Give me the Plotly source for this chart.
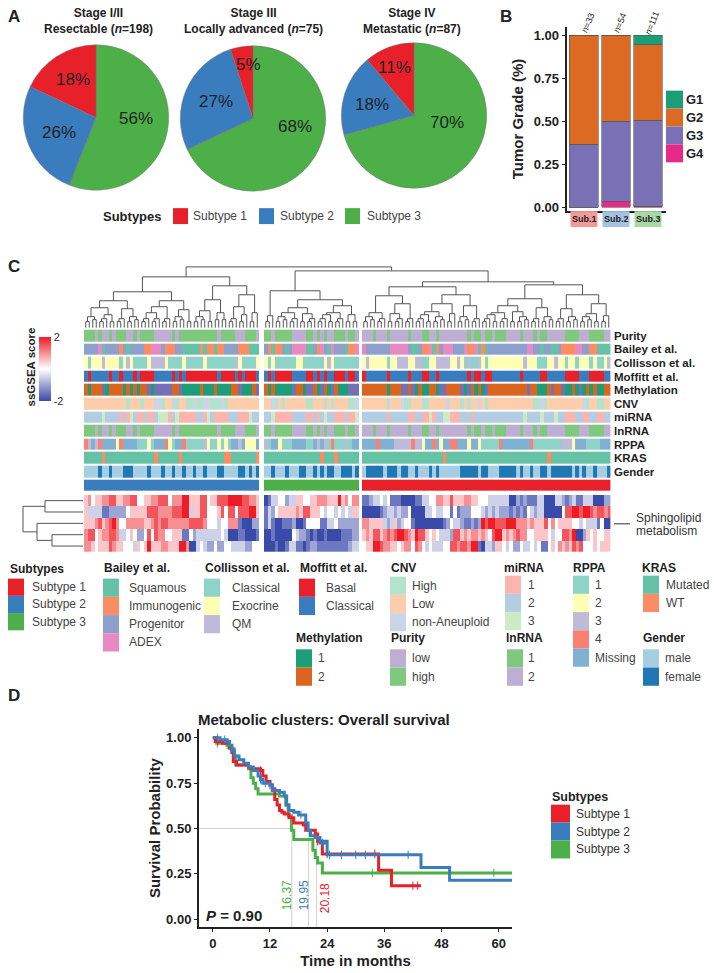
import re
import plotly.graph_objects as go

W, H = 714, 973
FONT = "Liberation Sans"
INK = "#222222"

# ---------- Panel A data ----------
pie_labels = ["Subtype 3", "Subtype 2", "Subtype 1"]
pie_resectable = [56, 26, 18]
pie_locally = [68, 27, 5]
pie_metastatic = [70, 18, 11]
pie_titles = ["Stage I/II<br>Resectable (<i>n</i>=198)",
              "Stage III<br>Locally advanced (<i>n</i>=75)",
              "Stage IV<br>Metastatic (<i>n</i>=87)"]
subtype_names = ["Subtype 1", "Subtype 2", "Subtype 3"]
subtype_colors = ["#e8202a", "#3a7dbf", "#4caf48"]

# ---------- Panel B data ----------
grade_groups = ["Sub.1", "Sub.2", "Sub.3"]
grade_n = ["n=33", "n=54", "n=111"]
grade_g4 = [0.0, 0.035, 0.005]
grade_g3 = [0.365, 0.465, 0.50]
grade_g2 = [0.635, 0.50, 0.44]
grade_g1 = [0.0, 0.0, 0.055]
grade_colors = {"G1": "#1b9e77", "G2": "#dd6a22", "G3": "#7a70b5", "G4": "#e7298a"}

# ---------- Panel C annotation tracks (run-length text: count + class letter) ----------
purity = ["3H 1L 1H 2L 1H 1L 3H 2L 1H 1L 4H 5L 1H 1L 11H 1L 4H 3L 3H 2L",
          "2H 1L 5H 4L 2H 1L 1H 1L 1H 2L 3H 1L 2H 1L",
          "3L 1H 3L 1H 5L 1H 3L 2H 2L 1H 8L 1H 1L 2H 1L 2H 1L 3H 4L 1H 3L 1H 1L 2H 5L 4H 3L 4H 2L"]
bailey = ["4P 1A 1S 4P 1I 1P 1S 4P 2I 3A 1P 3I 2P 5S 1I 1S 2I 1S 2I 4P 3I 3S",
          "1P 1I 1S 2I 1P 1S 1P 4A 2S 1P 1I 1A 1P 1S 1A 3P 1S 2I 1A",
          "1A 7P 5A 1P 2S 1P 2I 1A 1S 1I 1P 3A 3P 1A 2I 1A 1S 1I 1S 11P 2A 2P 1S 2P 2S 1P 4I 2A 2P 2I 4S"]
collisson = ["1E 1C 3E 1Q 4E 1C 1E 1Q 1E 4C 1E 4Q 1E 4C 1E 5C 1E 8C 1Q 1E 4C 2E",
             "1E 1C 1E 6C 2E 6C 1E 1Q 1E 7C",
             "1E 1Q 5E 1C 2E 3Q 2E 2Q 2C 2E 4Q 2E 1Q 1E 1C 1Q 2C 1Q 1E 1C 10E 1Q 3E 3C 2E 1Q 2E 1C 2E 1C 3E 1C 1E 2C 1E 1Q"]
moffitt = ["1C 1B 5C 1B 2C 1B 3C 1B 1C 4B 5C 1B 1C 1B 1C 9B 1C 4B 1C 1B 1C 3B 2C",
           "1C 1B 1C 5B 4C 2B 1C 1B 1C 1B 2C 3B 1C 2B 1C",
           "1B 6C 1B 5C 1B 3C 2B 2C 1B 8C 1B 1C 2B 1C 2B 8C 1B 5C 2B 5C 4B 3C 4B 2C"]
methylation = ["OGOOOPGOOOO GOGOGOOPG PPPPP OOP GGGGG O GGG O GGGG OO P GGG O P",
               "OGOGGGGGPOOGPPOGPOGPOGGGPPP",
               "OOOOOOO G OOO PP O P G O GG OO G PP OOOO P G P O G O G P OOOOOOOOOOO P OO GGG O P OO P GG O G P G O G O GG OO"]
cnv = ["12L 1H 3L 1H 3L 2N 1H 2L 1N 1H 2L 2H 1N 2H 2N 3H 1N 1H 9L",
       "LLNHLHLLLLLLHHLLLHLHLLLLHHN",
       "7L 1H 3L 1N 2H 3L 2H 5L 1N 3L 1H 1L 1H 2L 1N 1L 1H 13L 2H 1N 1H 10L 1N 1H 2L 2H 2L"]
mirna = ["5B 1G 4B 1P 1B 1P 1G 1B 2P 1B 2P 1B 3G 1P 1B 1G 5P 2B 1P 1G 1B 4P 3B 3P 1G 2B",
         "BBGPPPPPBBBBPPBPBGBBPPPBPPG",
         "7B 1P 5B 2P 2B 2P 1G 1P 2B 2G 3P 3B 1P 4B 10B 1G 4B 1G 3B 1G 2B 3P 2B 2P 2B 2P 2B"]
lnrna = purity
rppa = ["RQMQRMMMMYRMMMMTTTYTMMMRYTMMRTTTTTQYTTYTYTMMQMYYYM",
        "QTMMYTTTMMMMTTMQMQTRTTTQTMM",
        "4M 1R 4M 5Q 1R 2Q 1Y 2M 1R 1M 1Y 2M 2R 3M 1Y 2M 1Y 5T 1R 8M 1R 8T 3Q 1Y 3M 4T 3M"]
kras = ["5M 1W 14M 1W 6M 1W 12M 2W 7M 1W", "16M 1W 3M 1W 6M", "23M 1W 29M 1W 17M"]
gender = ["4M 1F 2M 1F 3M 3F 4M 1F 3M 1F 2M 1F 2M 1F 2M 1F 2M 1F 3M 2F 4M 2F 1M 1F 1M 1F",
          "2M 1F 3M 1F 3M 2F 2M 1F 1M 1F 1M 2F 2M 3F 1M 1F",
          "1M 5F 1M 3F 1M 2F 2M 1F 3M 1F 1M 1F 6M 5F 1M 2F 3M 5F 1M 1F 2M 1F 2M 2F 1M 6F 1M 1F 1M 1F 2M 1F 3M 1F"]
subtype_track = ["50T", "27G", "71R"]

track_names = ["Purity", "Bailey et al.", "Collisson et al.", "Moffitt et al.", "Methylation",
               "CNV", "miRNA", "lnRNA", "RPPA", "KRAS", "Gender"]
track_data = [purity, bailey, collisson, moffitt, methylation, cnv, mirna, lnrna, rppa, kras, gender,
              subtype_track]
track_colors = [
    {"L": "#beaed4", "H": "#7fc97f"},
    {"S": "#66c2a5", "I": "#fc8d62", "P": "#8da0cb", "A": "#e78ac3"},
    {"C": "#8dd3c7", "E": "#ffffb3", "Q": "#bebada"},
    {"B": "#e8202a", "C": "#3a7dbf"},
    {"G": "#1b9e77", "O": "#d9651f", "P": "#7570b3"},
    {"H": "#b3e2cd", "L": "#fdcdac", "N": "#cbd5e8"},
    {"P": "#fbb4ae", "B": "#b3cde3", "G": "#ccebc5"},
    {"H": "#7fc97f", "L": "#beaed4"},
    {"T": "#8dd3c7", "Y": "#ffffb3", "Q": "#bebada", "R": "#fb8072", "M": "#80b1d3"},
    {"M": "#66c2a5", "W": "#fc8d62"},
    {"M": "#a6cee3", "F": "#1f78b4"},
    {"R": "#e8202a", "T": "#3a7dbf", "G": "#4caf48"},
]
block_sizes = [50, 27, 71]

# ---------- Panel C ssGSEA rows (digit 0..8 = -2..2) ----------
ss_row1 = ["56455 66775 56677 44556 67774 66688 55577 45577 78888 77665",
           "01334 42335 54455 66655 58564 66",
           "11233 43411 10000 11334 46655 75556 65544 43333 33002 12111 33000 33212 31133 30002 2"]
ss_row2 = ["53333 11222 22455 55577 76666 77788 35577 44457 47747 77885",
           "13245 55556 57755 54344 34343 55",
           "00000 12332 32240 00033 43344 14122 24443 23232 22121 21432 33000 00477 88788 76776 7"]
ss_row3 = ["55567 56786 44666 66556 76776 66666 77776 44434 46661 00022",
           "13100 11120 01444 41133 42222 22",
           "66555 53235 23441 00000 00012 43321 12128 78877 78886 66565 55746 45555 44343 33140 0"]
ss_row4 = ["67745 66776 33454 22474 76644 55511 42333 33334 30001 10001",
           "00100 00043 22101 00100 00111 22",
           "56577 56767 88765 87754 54333 27756 56656 54788 56567 66445 55543 44776 80025 45445 5"]
ss_row5 = ["66545 55765 54443 54585 55665 55886 00343 22422 44333 32244",
           "00010 01331 10122 11111 11112 33",
           "45588 76655 45664 76434 33344 77677 68810 33255 43422 43343 41145 46565 76744 45455 5"]
ss_rows = [ss_row1, ss_row2, ss_row3, ss_row4, ss_row5]

# ---------- Panel C dendrograms: (merge height, left, right); 0 = a leaf ----------
a = (6, 0, 0); b = (8, 0, 0); c = (9, a, 0); d = (11, a, b); e = (13, c, a)
den_block1 = (51,
              (36, (27, (20, d, e), (19, c, d)), (27, (21, (15, c, c), c), (18, d, a))),
              (42, (28, (17, d, a), (15, b, b)), (33, (21, c, (13, a, 0)), (15, a, 0))))
den_block2 = (37, (12, a, 0),
              (28, (20, (15, d, c), (14, a, c)), (22, (15, e, c), (13, a, a))))
den_block3 = (46,
              (41, (32, (15, d, c), (24, (14, a, c), c)),
                   (33, (24, (16, e, d), (14, a, 0)), (22, d, c))),
              (43, (29, (22, (15, e, c), (16, a, d)), (20, c, d)),
                   (33, (19, c, d), (24, (14, d, a), (12, a, 0)))))
den_top = (61, den_block1, (57, den_block2, den_block3))
den_rows = (60, (38, 0, 0), (46, 0, (31, 0, 0)))

# ---------- Panel C legends ----------
legend_groups = [
    ("Subtypes", subtype_names, subtype_colors, 8, 571, 8, 30, 581, 17.3),
    ("Bailey et al.", ["Squamous", "Immunogenic", "Progenitor", "ADEX"],
     ["#66c2a5", "#fc8d62", "#8da0cb", "#e78ac3"], 102, 570, 103, 127, 581, 18.3),
    ("Collisson et al.", ["Classical", "Exocrine", "QM"], ["#8dd3c7", "#ffffb3", "#bebada"],
     203, 570, 204, 230, 581, 18.3),
    ("Moffitt et al.", ["Basal", "Classical"], ["#e8202a", "#3a7dbf"], 298, 570, 299, 324, 581, 18.3),
    ("Methylation", ["1", "2"], ["#1b9e77", "#d9651f"], 294, 641, 296, 316, 652, 18.3),
    ("CNV", ["High", "Low", "non-Aneuploid"], ["#b3e2cd", "#fdcdac", "#cbd5e8"], 389, 570, 390, 410, 579, 18.3),
    ("Purity", ["low", "high"], ["#beaed4", "#7fc97f"], 389, 641, 390, 410, 652, 18.3),
    ("miRNA", ["1", "2", "3"], ["#fbb4ae", "#b3cde3", "#ccebc5"], 502, 570, 505, 526, 578, 18.3),
    ("lnRNA", ["1", "2"], ["#7fc97f", "#beaed4"], 504, 641, 507, 526, 652, 18.3),
    ("RPPA", ["1", "2", "3", "4", "Missing"], ["#8dd3c7", "#ffffb3", "#bebada", "#fb8072", "#80b1d3"],
     571, 570, 573, 593, 578, 18.3),
    ("KRAS", ["Mutated", "WT"], ["#66c2a5", "#fc8d62"], 640, 570, 643, 664, 578, 18.3),
    ("Gender", ["male", "female"], ["#a6cee3", "#1f78b4"], 641, 641, 643, 663, 652, 18.3),
]

# ---------- Panel D data ----------
km1_t = [0, 0.5, 2, 3.5, 4, 4.3, 5, 7.5, 8, 10, 10.5, 11.2, 12, 12.5, 13, 13.5, 14, 14.5, 15, 16, 17, 19, 19.5, 21.5, 22, 23, 34.8, 37.5, 43.7]
km1_s = [1.0, 0.98, 0.97, 0.95, 0.92, 0.87, 0.85, 0.84, 0.83, 0.82, 0.79, 0.76, 0.74, 0.72, 0.66, 0.63, 0.60, 0.59, 0.58, 0.56, 0.53, 0.52, 0.49, 0.47, 0.43, 0.36, 0.27, 0.185, 0.185]
km2_t = [0, 1.5, 3, 3.5, 4, 4.5, 5.5, 6.5, 7.5, 8.5, 9.5, 10, 10.5, 12, 12.5, 14, 15, 15.5, 16, 17, 18, 19.5, 20, 20.5, 21.5, 22.5, 23.5, 24, 43.7, 49.7, 62.8]
km2_s = [1.0, 0.99, 0.98, 0.96, 0.93, 0.90, 0.88, 0.86, 0.84, 0.82, 0.79, 0.77, 0.75, 0.74, 0.71, 0.70, 0.68, 0.63, 0.60, 0.59, 0.575, 0.53, 0.49, 0.46, 0.45, 0.42, 0.43, 0.355, 0.285, 0.215, 0.215]
km3_t = [0, 0.8, 3, 3.5, 4.5, 4.8, 6, 7.5, 8, 8.5, 9, 9.5, 13, 14, 15.3, 15.8, 16.5, 17, 20.5, 21, 21.5, 22, 23, 62.8]
km3_s = [1.0, 0.97, 0.96, 0.94, 0.90, 0.85, 0.85, 0.83, 0.78, 0.75, 0.72, 0.69, 0.69, 0.68, 0.63, 0.57, 0.49, 0.44, 0.44, 0.38, 0.34, 0.31, 0.255, 0.255]
km1_cens = [1, 10, 12, 22, 24, 34, 42, 43]
km2_cens = [1, 2.5, 10, 11, 18.5, 23, 24.5, 27, 30, 32, 41]
km3_cens = [1, 3, 33.5, 59]
km_medians = [16.6, 20.1, 21.8]
km_median_labels = ["16.37", "19.95", "20.18"]
km_median_colors = ["#4caf48", "#3a7dbf", "#e8202a"]


# ---------- helpers ----------
def fx(x): return x / W
def fy(y): return 1 - y / H
def dom_x(x0, x1): return [fx(x0), fx(x1)]
def dom_y(top, bottom): return [fy(bottom), fy(top)]


annotations, shapes = [], []


def text(x, y, s, size=11, color=INK, xanchor="left", angle=0, bold=False):
    annotations.append(dict(x=fx(x), y=fy(y), xref="paper", yref="paper", showarrow=False,
                            text=f"<b>{s}</b>" if bold else s, textangle=angle, xanchor=xanchor,
                            yanchor="middle", font=dict(size=size, color=color, family=FONT)))


def rect(x0, y0, x1, y1, color):
    shapes.append(dict(type="rect", xref="paper", yref="paper", x0=fx(x0), x1=fx(x1), y0=fy(y0), y1=fy(y1),
                       fillcolor=color, line=dict(width=0), layer="above"))


def expand(s):
    return [ch for n, ch in re.findall(r"(\d*)([A-Z])", s) for _ in range(int(n or 1))]


def fit(seq, n):
    seq = list(seq)[:n]
    return seq + seq[-1:] * (n - len(seq))


fig = go.Figure()

# ---------- Panel A ----------
pie_boxes = [(96, 118), (253, 119), (414, 116)]
pie_radius = 73
for vals, (cx, cy) in zip([pie_resectable, pie_locally, pie_metastatic], pie_boxes):
    fig.add_trace(go.Pie(labels=pie_labels, values=vals, sort=False, direction="clockwise", rotation=0,
                         textinfo="none", showlegend=False, hoverinfo="label+percent",
                         marker=dict(colors=[subtype_colors[2], subtype_colors[1], subtype_colors[0]],
                                     line=dict(color="#777777", width=0.5)),
                         domain=dict(x=dom_x(cx - pie_radius, cx + pie_radius),
                                     y=dom_y(cy - pie_radius, cy + pie_radius))))
pie_label_pos = [[(136, 119), (59, 133), (73, 80)], [(295, 127), (216, 102), (248, 65)],
                 [(447, 123), (372, 105), (394, 68)]]
for vals, positions in zip([pie_resectable, pie_locally, pie_metastatic], pie_label_pos):
    for v, (x, y) in zip(vals, positions):
        text(x, y, f"{v}%", size=17, xanchor="center")
for title, x in zip(pie_titles, [98, 253, 412]):
    text(x, 21, title, size=12, xanchor="center", bold=True)
text(101, 217, "Subtypes", size=13, bold=True)
for name, color, x0, tx in zip(subtype_names, subtype_colors, [173, 259, 345], [191, 278, 365]):
    rect(x0, 209, x0 + 15, 225, color)
    text(tx, 217, name, size=12, color="#444444")
text(6, 17, "A", size=17, bold=True)
text(498, 17, "B", size=17, bold=True)
text(6, 268, "C", size=17, bold=True)
text(6, 698, "D", size=17, bold=True)

# ---------- Panel B ----------
for name, vals in zip(["G4", "G3", "G2", "G1"], [grade_g4, grade_g3, grade_g2, grade_g1]):
    fig.add_trace(go.Bar(x=grade_groups, y=vals, name=name, marker=dict(color=grade_colors[name],
                         line=dict(color="#555555", width=0.6)), width=0.9, showlegend=False,
                         xaxis="x", yaxis="y"))
for grp, label, x, col in zip(grade_groups, grade_n, [584, 616, 648], ["#f29a9a", "#a5c2e2", "#a9d8a4"]):
    rect(x - 13.5, 212, x + 13.5, 228, col)
    text(x, 220, grp, size=9, xanchor="center", bold=True)
    text(x + 4, 23, f"<i>n</i>={label[2:]}", size=9, xanchor="center", angle=-68)
for i, name in enumerate(["G1", "G2", "G3", "G4"]):
    rect(666, 91 + 18 * i, 683, 109 + 18 * i, grade_colors[name])
    text(684, 100 + 18 * i, name, size=13, bold=True)

# ---------- Panel C tracks ----------
px_per_col = 3.5
offsets = [0, 51.43, 79.43]
palette, index = [], {}
for cmap in track_colors:
    for col in cmap.values():
        if col not in index:
            index[col] = len(palette)
            palette.append(col)
N = len(palette)
disc = []
for i, col in enumerate(palette):
    disc += [[i / N, col], [(i + 1) / N, col]]
for bi, (size, off) in enumerate(zip(block_sizes, offsets)):
    z = []
    for data, cmap in zip(track_data, track_colors):
        z.append([index[cmap[ch]] for ch in fit(expand(data[bi]), size)])
    fig.add_trace(go.Heatmap(z=z, x0=off + 0.5, dx=1, y0=0, dy=1, zmin=-0.5, zmax=N - 0.5, colorscale=disc,
                             showscale=False, ygap=2, xaxis="x3", yaxis="y3", hoverinfo="skip"))
    ss = []
    for row in ss_rows:
        digits = [int(ch) for ch in row[bi].replace(" ", "")]
        ss.append([(v - 4) / 2 for v in fit(digits, size)])
    fig.add_trace(go.Heatmap(z=ss, x0=off + 0.5, dx=1, y0=0, dy=1, zmin=-2, zmax=2,
                             colorscale=[[0, "#3a4aa8"], [0.5, "#ffffff"], [1, "#ee1c25"]],
                             showscale=bi == 0, xaxis="x4", yaxis="y4", hoverinfo="skip",
                             colorbar=dict(x=39 / W, xanchor="left", y=fy(371), yanchor="middle",
                                           thickness=12, thicknessmode="pixels", len=64, lenmode="pixels",
                                           tickvals=[-2, 2], ticktext=["-2", "2"], ticks="", outlinewidth=0,
                                           xpad=0, ypad=0, tickfont=dict(size=11, color="#333", family=FONT))))
for i, name in enumerate(track_names):
    text(612, 337 + 13.7 * i, name, size=11.5, bold=True)
text(31, 369, "ssGSEA score", size=11.5, xanchor="center", angle=-90, bold=True)


# dendrograms
def walk(node, leaves, xs, ys):
    if node == 0:
        return leaves.pop(0), 0
    h, left, right = node
    xl, hl = walk(left, leaves, xs, ys)
    xr, hr = walk(right, leaves, xs, ys)
    xs += [xl, xl, xr, xr, None]
    ys += [hl, h, h, hr, None]
    return (xl + xr) / 2, h


leaf_x = [off + 0.5 + i for size, off in zip(block_sizes, offsets) for i in range(size)]
dx_top, dy_top = [], []
walk(den_top, leaf_x, dx_top, dy_top)
fig.add_trace(go.Scatter(x=dx_top, y=dy_top, mode="lines", line=dict(color="#555555", width=1),
                         showlegend=False, xaxis="x5", yaxis="y5", hoverinfo="skip"))
pos_rows, hts_rows = [], []
walk(den_rows, [0, 1, 2, 3, 4], pos_rows, hts_rows)
fig.add_trace(go.Scatter(x=hts_rows, y=pos_rows, mode="lines", line=dict(color="#555555", width=1),
                         showlegend=False, xaxis="x6", yaxis="y6", hoverinfo="skip"))

# sphingolipid label
shapes.append(dict(type="line", xref="paper", yref="paper", x0=fx(614), x1=fx(630), y0=fy(526), y1=fy(526),
                   line=dict(color="#333333", width=1)))
text(634, 520, "Sphingolipid", size=12, color="#333333")
text(634, 533, "metabolism", size=12, color="#333333")

# legends
for title, names, cols, tx0, ty, sx, lx, y0, step in legend_groups:
    text(tx0, ty, title, size=12, bold=True)
    for i, (name, col) in enumerate(zip(names, cols)):
        rect(sx, y0 + step * i, sx + 16, y0 + step * (i + 1), col)
        text(lx, y0 + step * (i + 0.5), name, size=12, color="#444444")

# ---------- Panel D ----------
km_groups = [(km3_t, km3_s, km3_cens, subtype_colors[2], "Subtype 3"),
             (km1_t, km1_s, km1_cens, subtype_colors[0], "Subtype 1"),
             (km2_t, km2_s, km2_cens, subtype_colors[1], "Subtype 2")]
for t, s, cens, col, name in km_groups:
    fig.add_trace(go.Scatter(x=t, y=s, mode="lines", line=dict(color=col, width=3, shape="hv"), name=name,
                             showlegend=False, xaxis="x2", yaxis="y2"))
    cs = [s[max(i for i, tt in enumerate(t) if tt <= c_)] for c_ in cens]
    fig.add_trace(go.Scatter(x=cens, y=cs, mode="markers", marker=dict(symbol="line-ns", size=6,
                             line=dict(color=col, width=1)), showlegend=False, xaxis="x2", yaxis="y2",
                             hoverinfo="skip"))
guide = dict(color="#cccccc", width=0.9)
shapes.append(dict(type="line", xref="x2", yref="y2", x0=-2.9, x1=km_medians[0], y0=0.5, y1=0.5, line=guide,
                   layer="below"))
for m, lab, col, lx, ly in zip(km_medians, km_median_labels, km_median_colors, [287, 304, 325], [899, 899, 902]):
    shapes.append(dict(type="line", xref="x2", yref="y2", x0=m, x1=m, y0=-0.044, y1=0.5, line=guide, layer="below"))
    text(lx, ly, lab, size=12, color=col, xanchor="center", angle=-90)
text(204, 919, "<i>P</i> = 0.90", size=15, bold=True)
text(196, 722, "Metabolic clusters: Overall survival", size=15, bold=True)
text(550, 800, "Subtypes", size=12.5, bold=True)
for i, (name, col) in enumerate(zip(subtype_names, subtype_colors)):
    rect(551, 808 + 18 * i, 570, 826 + 18 * i, col)
    text(574, 817 + 18 * i, name, size=12, color="#333333")

# ---------- Axes ----------
hidden = dict(visible=False, showgrid=False, zeroline=False)
tickf = dict(size=13, color=INK, family=FONT, weight="bold")
titlef = dict(size=15, color=INK, family=FONT, weight="bold")
fig.update_layout(
    width=W, height=H, autosize=False, margin=dict(l=0, r=0, t=0, b=0), paper_bgcolor="white",
    plot_bgcolor="white", barmode="stack", bargap=0.1, showlegend=False,
    font=dict(family=FONT, color=INK), annotations=annotations, shapes=shapes,
    xaxis=dict(domain=dom_x(566.6, 666), range=[-0.54, 2.56], showticklabels=False, ticks="", showgrid=False,
               zeroline=False, showline=True, linecolor="#222", linewidth=2, anchor="y"),
    yaxis=dict(domain=dom_y(27, 212), range=[-0.023, 1.049], tickvals=[0, 0.25, 0.5, 0.75, 1],
               ticktext=["0.00", "0.25", "0.50", "0.75", "1.00"], tickfont=tickf, showgrid=False, zeroline=False,
               showline=True, linecolor="#222", linewidth=2, ticks="outside", ticklen=3, tickcolor="#222",
               anchor="x", title=dict(text="Tumor Grade (%)", font=titlef, standoff=6)),
    xaxis2=dict(domain=dom_x(199, 512), range=[-2.9, 62.8], tickvals=[0, 12, 24, 36, 48, 60], tickfont=tickf,
                showgrid=False, zeroline=False, showline=True, linecolor="#222", linewidth=2, ticks="outside",
                ticklen=3, tickcolor="#222", anchor="y2",
                title=dict(text="Time in months", font=titlef, standoff=6)),
    yaxis2=dict(domain=dom_y(732, 931), range=[-0.044, 1.049], tickvals=[0, 0.25, 0.5, 0.75, 1],
                ticktext=["0.00", "0.25", "0.50", "0.75", "1.00"], tickfont=tickf, showgrid=False, zeroline=False,
                showline=True, linecolor="#222", linewidth=2, ticks="outside", ticklen=3, tickcolor="#222",
                anchor="x2", title=dict(text="Survival Probability", font=titlef, standoff=2)),
    xaxis3=dict(domain=dom_x(84, 610.4), range=[0, 150.4], anchor="y3", **hidden),
    yaxis3=dict(domain=dom_y(330, 494), range=[11.5, -0.5], anchor="x3", **hidden),
    xaxis4=dict(domain=dom_x(84, 610.4), range=[0, 150.4], anchor="y4", **hidden),
    yaxis4=dict(domain=dom_y(497, 554), range=[4.5, -0.5], anchor="x4", **hidden),
    xaxis5=dict(domain=dom_x(84, 610.4), range=[0, 150.4], anchor="y5", **hidden),
    yaxis5=dict(domain=dom_y(267, 330), range=[-1, 62], anchor="x5", **hidden),
    xaxis6=dict(domain=dom_x(20, 83), range=[63, 0], anchor="y6", **hidden),
    yaxis6=dict(domain=dom_y(497, 554), range=[4.5, -0.5], anchor="x6", **hidden),
)

fig.write_html("out.html", config={"displayModeBar": False},
               post_script="document.body.style.margin='0';document.body.style.overflow='hidden';")
